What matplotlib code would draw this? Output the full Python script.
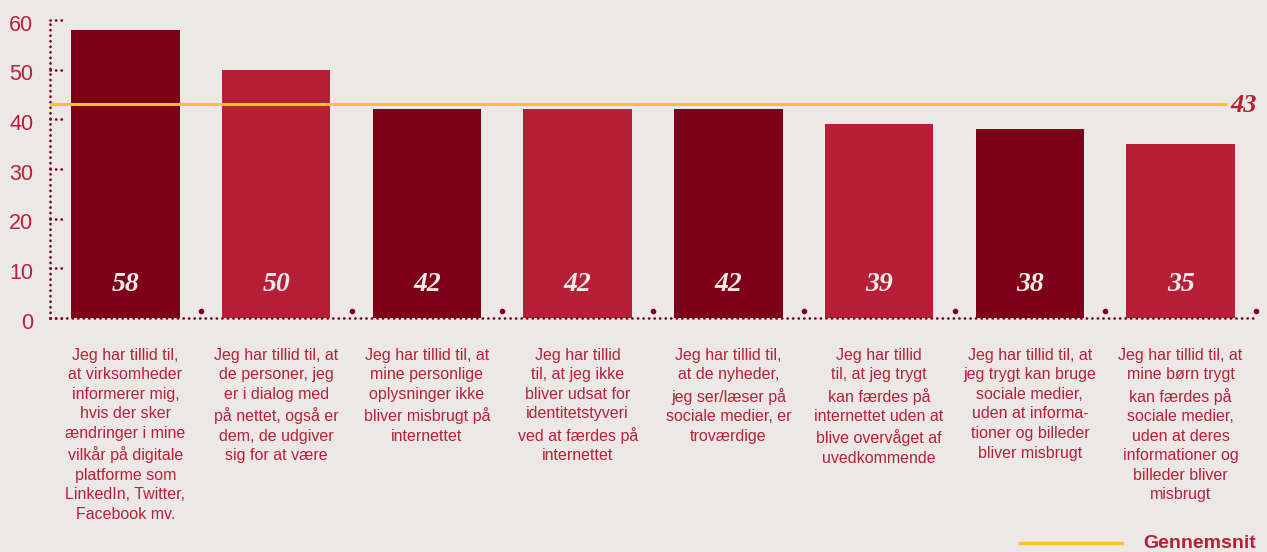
import matplotlib.pyplot as plt
import matplotlib.transforms as mtrans
from matplotlib.lines import Line2D

# --- Daten ---
values = [58, 50, 42, 42, 42, 39, 38, 35]
average = 43
labels = [
    "Jeg har tillid til,\nat virksomheder\ninformerer mig,\nhvis der sker\nændringer i mine\nvilkår på digitale\nplatforme som\nLinkedIn, Twitter,\nFacebook mv.",
    "Jeg har tillid til, at\nde personer, jeg\ner i dialog med\npå nettet, også er\ndem, de udgiver\nsig for at være",
    "Jeg har tillid til, at\nmine personlige\noplysninger ikke\nbliver misbrugt på\ninternettet",
    "Jeg har tillid\ntil, at jeg ikke\nbliver udsat for\nidentitetstyveri\nved at færdes på\ninternettet",
    "Jeg har tillid til,\nat de nyheder,\njeg ser/læser på\nsociale medier, er\ntroværdige",
    "Jeg har tillid\ntil, at jeg trygt\nkan færdes på\ninternettet uden at\nblive overvåget af\nuvedkommende",
    "Jeg har tillid til, at\njeg trygt kan bruge\nsociale medier,\nuden at informa-\ntioner og billeder\nbliver misbrugt",
    "Jeg har tillid til, at\nmine børn trygt\nkan færdes på\nsociale medier,\nuden at deres\ninformationer og\nbilleder bliver\nmisbrugt",
]
yticks = [0, 10, 20, 30, 40, 50, 60]

# --- Farben ---
bg = "#ece8e5"
dark = "#7e0018"
light = "#b61f35"
yellow = "#fbc220"
text_red = "#b8203a"

plt.rcParams['font.family'] = ['Liberation Sans', 'DejaVu Sans']

fig = plt.figure(figsize=(12.67, 5.52), dpi=100, facecolor=bg)
ax = fig.add_axes([50 / 1267, 1 - 318 / 552, 1206 / 1267, 298 / 552])
ax.set_facecolor(bg)

x = list(range(len(values)))
colors = [dark if i % 2 == 0 else light for i in x]
ax.bar(x, values, width=0.72, color=colors, zorder=2)

for i, v in zip(x, values):
    ax.text(i, 6.8, str(v), ha='center', va='center', color='#f1ece9',
            fontsize=20, fontweight='bold', fontstyle='italic',
            family='Liberation Serif', zorder=3)

# Durchschnittslinie
ax.plot([-0.5, 7.31], [average, average], color=yellow, lw=2.2, zorder=4,
        solid_capstyle='butt', clip_on=False)
ax.text(7.33, average - 0.3, str(average), ha='left', va='center', color=light,
        fontsize=19, fontweight='bold', fontstyle='italic',
        family='Liberation Serif', clip_on=False)

ax.set_xlim(-0.5, 7.5)
ax.set_ylim(0, 60)
for s in ax.spines.values():
    s.set_visible(False)

# gepunktete Achsen
dot = (0, (0.1, 2.0))
ax.plot([-0.5, -0.5], [0, 60], color=dark, lw=1.9, ls=dot,
        dash_capstyle='round', clip_on=False, zorder=1)
ax.plot([-0.5, 7.5], [0, 0], color=dark, lw=1.9, ls=dot,
        dash_capstyle='round', clip_on=False, zorder=5)
for t in yticks:
    ax.plot([-0.5, -0.41], [t, t], color=dark, lw=1.9, ls=dot,
            dash_capstyle='round', clip_on=False, zorder=1)
bounds = [i + 0.5 for i in x]
ax.plot(bounds, [1.4] * len(bounds), ls='none', marker='o', ms=3,
        color=dark, clip_on=False, zorder=1)

ax.set_xticks([])
ax.set_yticks(yticks)
ax.tick_params(axis='y', length=0, pad=12, labelsize=15.5, labelcolor=text_red)
# Zahlen leicht nach unten schieben
offset = mtrans.ScaledTranslation(0, -2 / 72, fig.dpi_scale_trans)
for lab in ax.get_yticklabels():
    lab.set_transform(lab.get_transform() + offset)

for i, lab in zip(x, labels):
    ax.text(i, -0.1, lab, transform=ax.get_xaxis_transform(), ha='center',
            va='top', fontsize=11.5, color=text_red, linespacing=1.38)

# Legende
fig.add_artist(Line2D([1020 / 1267, 1122 / 1267], [1 - 543 / 552] * 2,
                      color=yellow, lw=2.5))
fig.text(1143 / 1267, 1 - 544 / 552, "Gennemsnit", ha='left', va='center',
         fontsize=14, fontweight='bold', color=light)

fig.savefig("out.png", dpi=100, facecolor=bg)
